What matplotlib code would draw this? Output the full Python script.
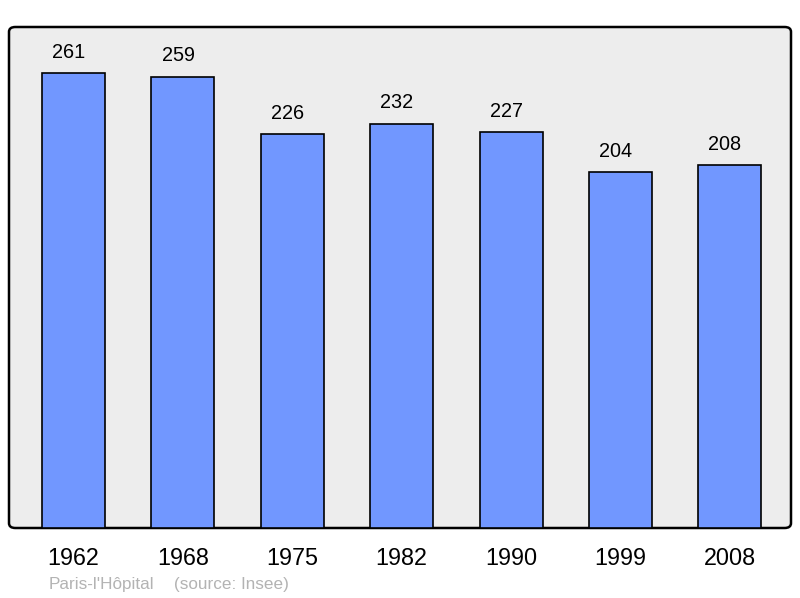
import matplotlib
matplotlib.use("Agg")
import matplotlib.pyplot as plt
from matplotlib.patches import FancyBboxPatch

years = ["1962", "1968", "1975", "1982", "1990", "1999", "2008"]
population = [261, 259, 226, 232, 227, 204, 208]

BAR = "#7197ff"
BG = "#ededed"
plt.rcParams["font.family"] = ["Liberation Sans", "DejaVu Sans"]

fig = plt.figure(figsize=(8, 5.98), dpi=100)
ax = fig.add_axes([9 / 800, 70 / 598, 782 / 800, 501 / 598])
ax.set_facecolor("none")
for s in ax.spines.values():
    s.set_visible(False)

# rounded frame behind the bars
box = FancyBboxPatch((9 / 800, 70 / 598), 782 / 800, 501 / 598,
                     boxstyle="round,pad=0,rounding_size=0.008",
                     transform=fig.transFigure, facecolor=BG,
                     edgecolor="black", linewidth=1.8, zorder=0,
                     clip_on=False)
ax.add_patch(box)

x = list(range(len(years)))
ax.bar(x, population, width=0.576, color=BAR, edgecolor="black",
       linewidth=1.2, zorder=2)
for xi, v in zip(x, population):
    ax.annotate(str(v), (xi, v), xytext=(-3.5, 15), textcoords="offset points",
                ha="center", va="center", fontsize=14.3)

ax.set_xlim(-0.59, 6.56)
ax.set_ylim(0, 287.4)
ax.set_yticks([])
ax.set_xticks(x)
ax.set_xticklabels(years, fontsize=16.8)
ax.tick_params(axis="x", length=0, pad=14)

fig.text(49 / 800, 1 - 584 / 598, "Paris-l'Hôpital", color="#b3b3b3",
         fontsize=12.3, va="center")
fig.text(174 / 800, 1 - 584 / 598, "(source: Insee)", color="#b3b3b3",
         fontsize=12.3, va="center")

fig.savefig("out.png", dpi=100)
